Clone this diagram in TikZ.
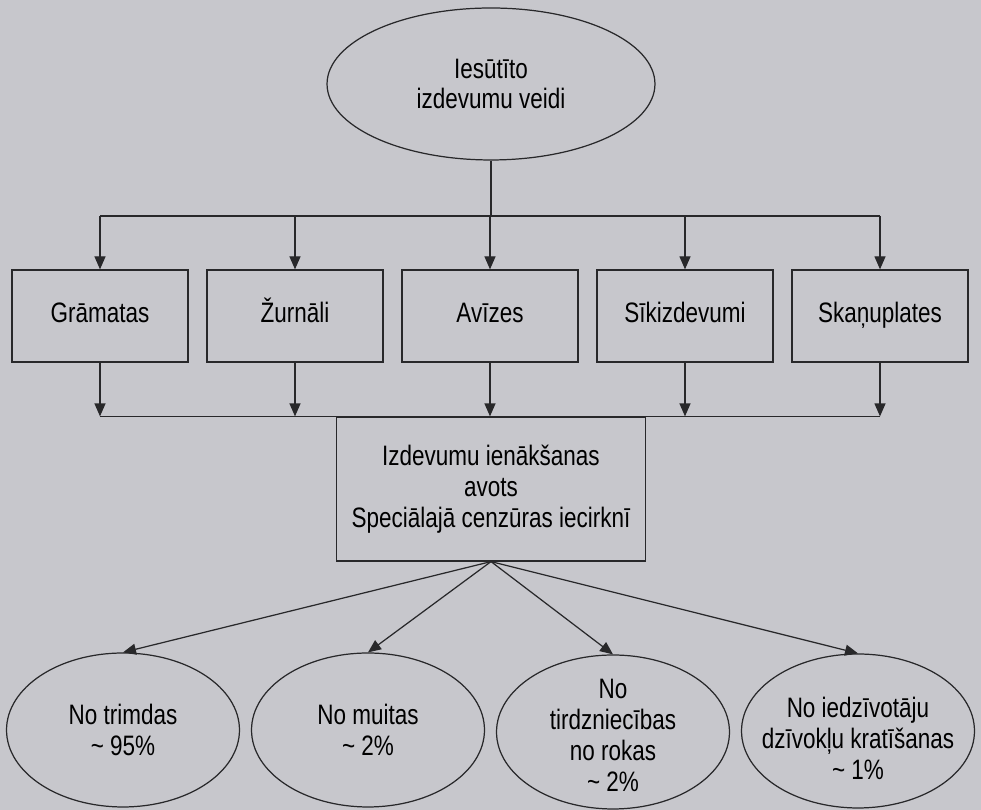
\documentclass[tikz,border=0pt]{standalone}
\usepackage{fontspec}
\setmainfont{Liberation Sans}[FakeStretch=0.8]
\usepackage{xcolor}
\usetikzlibrary{arrows.meta,positioning,calc,shapes.geometric}

\definecolor{paper}{RGB}{199,199,204}
\definecolor{ink}{RGB}{40,40,42}

\tikzset{
  line/.style={draw=ink,line width=0.7pt},
  arr/.style={line,-{Triangle[length=2.6mm,width=2.2mm]}},
  kind/.style={line,rectangle,minimum width=3.52cm,minimum height=1.84cm,inner sep=0pt,
    text height=1.9ex,text depth=0.4ex},
  oval/.style={line,ellipse,minimum width=4.66cm,minimum height=3.08cm,inner sep=0pt},
}

\begin{document}
\begin{tikzpicture}[x=0.02cm,y=0.02cm,font=\fontsize{16pt}{17.6pt}\selectfont]
\useasboundingbox (0,0) rectangle (981,810);
\fill[paper] (0,0) rectangle (981,810);

% top of the tree
\node[line,ellipse,minimum width=6.56cm,minimum height=3.04cm,inner sep=0pt,align=center]
  (veidi) at (491,726) {Iesūtīto\\izdevumu veidi};
\coordinate (busA) at (491,594);

% kinds of items
\node[kind] (gramatas) at (100,494) {Grāmatas};
\node[kind] (zurnali)  at (295,494) {Žurnāli};
\node[kind] (avizes)   at (490,494) {Avīzes};
\node[kind] (sikizd)   at (685,494) {Sīkizdevumi};
\node[kind] (skanupl)  at (880,494) {Skaņuplates};

% source box
\node[line,rectangle,minimum width=6.18cm,minimum height=2.88cm,inner sep=0pt,align=center]
  (avots) at (491,321) {Izdevumu ienākšanas\\avots\\Speciālajā cenzūras iecirknī};

\draw[line] (veidi.south) -- (busA);
\draw[line] (gramatas.north |- busA) -- (skanupl.north |- busA);
\draw[line] (gramatas.south |- avots.north) -- (skanupl.south |- avots.north);
\foreach \n in {gramatas,zurnali,avizes,sikizd,skanupl} {
  \draw[arr] (\n.north |- busA) -- (\n.north);
  \draw[arr] (\n.south) -- (\n.south |- avots.north);
}

% where the items came from
\node[oval,label={[align=center]center:{No trimdas\\\textasciitilde\ 95\%}}] (trimdas) at (123,80) {};
\node[oval,label={[align=center]center:{No muitas\\\textasciitilde\ 2\%}}] (muitas) at (368,80) {};
\node[oval,label={[align=center,yshift=-2pt]center:{No\\tirdzniecības\\no rokas\\\textasciitilde\ 2\%}}] (tirdzn) at (613,78) {};
\node[oval,label={[align=center,yshift=-4pt]center:{No iedzīvotāju\\dzīvokļu kratīšanas\\\textasciitilde\ 1\%}}] (kratis) at (858,79) {};

\foreach \n in {trimdas,muitas,tirdzn,kratis}
  \draw[arr] (avots.south) -- (\n.north);
\end{tikzpicture}
\end{document}
